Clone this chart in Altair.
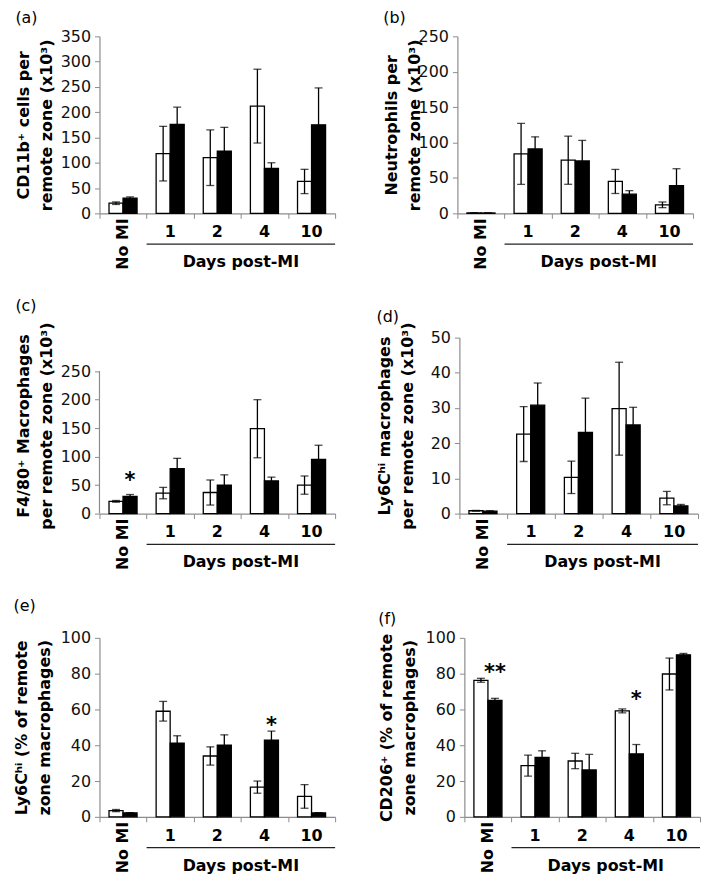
import altair as alt
import pandas as pd

GROUPS = ["No MI", "1", "2", "4", "10"]
DAY_GROUPS = ["1", "2", "4", "10"]
SERIES = ["open", "filled"]

# (a) CD11b+ cells
a_white = [20, 118, 110, 212, 63]
a_white_err = [2.5, 54, 55, 73, 24]
a_black = [30, 176, 123, 89, 175]
a_black_err = [2.5, 34, 47, 11, 73]

# (b) Neutrophils
b_white = [0.5, 84, 75, 45, 12]
b_white_err = [0, 43, 34, 17, 4]
b_black = [0.5, 91, 74, 27, 39]
b_black_err = [0, 17, 29, 5, 24]

# (c) F4/80+ macrophages
c_white = [21.5, 36, 37, 149, 50]
c_white_err = [1.5, 10, 22, 51, 16]
c_black = [30, 79, 50, 57.5, 95]
c_black_err = [3.5, 18, 18, 6.5, 25]

# (d) Ly6Chi macrophages
d_white = [0.8, 22.6, 10.3, 29.8, 4.4]
d_white_err = [0.1, 7.8, 4.6, 13.2, 1.9]
d_black = [0.7, 30.8, 23.1, 25.2, 2.2]
d_black_err = [0.1, 6.3, 9.7, 5.0, 0.4]

# (e) Ly6Chi % of remote zone macrophages
e_white = [3.5, 59, 34, 16.6, 11.4]
e_white_err = [0.6, 5.5, 5.1, 3.4, 6.6]
e_black = [2.2, 41.2, 40, 42.8, 2.2]
e_black_err = [0.1, 4.1, 5.8, 5.1, 0.1]

# (f) CD206+ % of remote zone macrophages
f_white = [76.3, 28.6, 31.2, 59.2, 79.8]
f_white_err = [1.1, 5.9, 4.3, 1.1, 8.9]
f_black = [65.1, 33.2, 26.2, 35.2, 90.5]
f_black_err = [1.1, 3.7, 8.7, 5.2, 0.8]

# significance marks: (group, y position, text) over the filled bar
c_stars = [("No MI", 58, "*")]
e_stars = [("4", 51, "*")]
f_stars = [("No MI", 80.5, "**"), ("4", 65, "*")]

FONT = "DejaVu Sans"
GRAY = "#8c8c8c"


def make_panel(letter, white, white_err, black, black_err, ymax, ystep, ytitle,
               stars, title_pad, width=237, height=178, scale_max=None, title_offset=8):
    rows = []
    for s, vals, errs in ((SERIES[0], white, white_err), (SERIES[1], black, black_err)):
        for g, v, e in zip(GROUPS, vals, errs):
            rows.append({"group": g, "series": s, "value": v, "lo": v - e, "hi": v + e})
    df = pd.DataFrame(rows)

    extended = scale_max is not None
    yscale = alt.Scale(domain=[0, scale_max if extended else ymax], nice=False, zero=True)
    xscale = alt.Scale(domain=GROUPS, paddingInner=0, paddingOuter=0)
    xoscale = alt.Scale(domain=SERIES, paddingInner=0, paddingOuter=0.68)

    x_axis = alt.Axis(labels=False, title=None, tickBand="extent", tickSize=5,
                      domainColor=GRAY, tickColor=GRAY, domainWidth=1.2)
    y_axis = alt.Axis(values=list(range(0, ymax + 1, ystep)), title=ytitle,
                      titlePadding=title_pad, grid=False, tickSize=5,
                      domain=not extended,
                      domainColor=GRAY, tickColor=GRAY, domainWidth=1.2,
                      labelPadding=4)

    X = alt.X("group:N", scale=xscale, axis=x_axis, sort=GROUPS)
    XO = alt.XOffset("series:N", scale=xoscale, sort=SERIES)

    def Y(field):
        return alt.Y(field, scale=yscale, axis=y_axis, title=ytitle)

    base = alt.Chart(df)
    bars = base.mark_bar(stroke="black", strokeWidth=1.3).encode(
        x=X, xOffset=XO, y=Y("value:Q"),
        fill=alt.Fill("series:N", scale=alt.Scale(domain=SERIES, range=["white", "black"]), legend=None),
    )
    whisk = base.mark_rule(color="black", strokeWidth=1.3).encode(
        x=X, xOffset=XO, y=Y("lo:Q"), y2="hi:Q",
    )
    caps = base.transform_fold(["lo", "hi"], as_=["end", "endval"]).mark_tick(
        color="black", thickness=1.3, size=8, orient="horizontal"
    ).encode(x=X, xOffset=XO, y=Y("endval:Q"))

    lab = alt.Chart(pd.DataFrame({"group": DAY_GROUPS})).mark_text(
        fontWeight="bold", fontSize=16, baseline="middle", color="black"
    ).encode(x=X, y=alt.value(height + 19), text="group:N")
    nomi = alt.Chart(pd.DataFrame({"group": ["No MI"]})).mark_text(
        fontWeight="bold", fontSize=16, baseline="middle", align="right", angle=270, color="black"
    ).encode(x=X, y=alt.value(height + 5), text="group:N")
    underline = alt.Chart(pd.DataFrame({"k": [0]})).mark_rule(color="#222222", strokeWidth=1.2).encode(
        x=alt.XDatum("1", type="nominal", bandPosition=0, scale=xscale, axis=x_axis),
        x2=alt.X2Datum("10", bandPosition=1),
        y=alt.value(height + 31),
    )
    days = alt.Chart(pd.DataFrame({"k": [0]})).mark_text(
        fontWeight="bold", fontSize=16, baseline="middle", color="black"
    ).encode(
        x=alt.XDatum("4", type="nominal", bandPosition=0, scale=xscale, axis=x_axis),
        y=alt.value(height + 49),
        text=alt.value("Days post-MI"),
    )

    layers = [bars, whisk, caps, lab, nomi, underline, days]
    if extended:
        axline = alt.Chart(pd.DataFrame({"k": [0]})).mark_rule(color=GRAY, strokeWidth=1.2).encode(
            x=alt.value(0),
            y=alt.YDatum(0, scale=yscale, axis=y_axis, title=ytitle),
            y2=alt.Y2Datum(ymax),
        )
        layers.append(axline)
    if stars:
        sdf = pd.DataFrame({"group": [s[0] for s in stars], "series": [SERIES[1]] * len(stars),
                            "y": [s[1] for s in stars], "t": [s[2] for s in stars]})
        st = alt.Chart(sdf).mark_text(fontWeight="bold", fontSize=21, baseline="middle", color="black").encode(
            x=X, xOffset=XO, y=Y("y:Q"), text="t:N")
        layers.append(st)

    return alt.layer(*layers).properties(
        width=width, height=height,
        title=alt.TitleParams(letter, anchor="start", frame="bounds", fontSize=16,
                              fontWeight="normal", font=FONT, color="black", offset=title_offset),
    )


pa = make_panel("(a)", a_white, a_white_err, a_black, a_black_err, 350, 50,
                ["CD11b\u207a cells per", "remote zone (x10\u00b3)"], None, 6, title_offset=2)
pb = make_panel("(b)", b_white, b_white_err, b_black, b_black_err, 250, 50,
                ["Neutrophils per", "remote zone (x10\u00b3)"], None, -4, title_offset=2)
pc = make_panel("(c)", c_white, c_white_err, c_black, c_black_err, 250, 50,
                ["F4/80\u207a Macrophages", "per remote zone (x10\u00b3)"], c_stars, 6,
                height=177, scale_max=309, title_offset=8)
pd_ = make_panel("(d)", d_white, d_white_err, d_black, d_black_err, 50, 10,
                 ["Ly6C\u02b0\u2071 macrophages", "per remote zone (x10\u00b3)"], None, 15,
                 width=240, height=177, title_offset=-3)
pe = make_panel("(e)", e_white, e_white_err, e_black, e_black_err, 100, 20,
                ["Ly6C\u02b0\u2071 (% of remote", "zone macrophages)"], e_stars, 8, height=180,
                title_offset=16)
pf = make_panel("(f)", f_white, f_white_err, f_black, f_black_err, 100, 20,
                ["CD206\u207a (% of remote", "zone macrophages)"], f_stars, 8, height=180,
                title_offset=3)

row1 = alt.hconcat(pa, pb, spacing=47)
row2 = alt.hconcat(pc, pd_, spacing=40)
row3 = alt.hconcat(pe, pf, spacing=42)

chart = alt.vconcat(row1, row2, row3, spacing=28).properties(
    padding={"left": 5, "top": 0, "right": 0, "bottom": 0}
).configure(font=FONT).configure_view(stroke=None).configure_axis(
    labelFont=FONT, labelFontSize=16, labelColor="#111111",
    titleFont=FONT, titleFontSize=16, titleFontWeight="bold", titleColor="black",
    titleLineHeight=23,
)

chart.save("out.html", embed_options={"renderer": "svg", "actions": False})
